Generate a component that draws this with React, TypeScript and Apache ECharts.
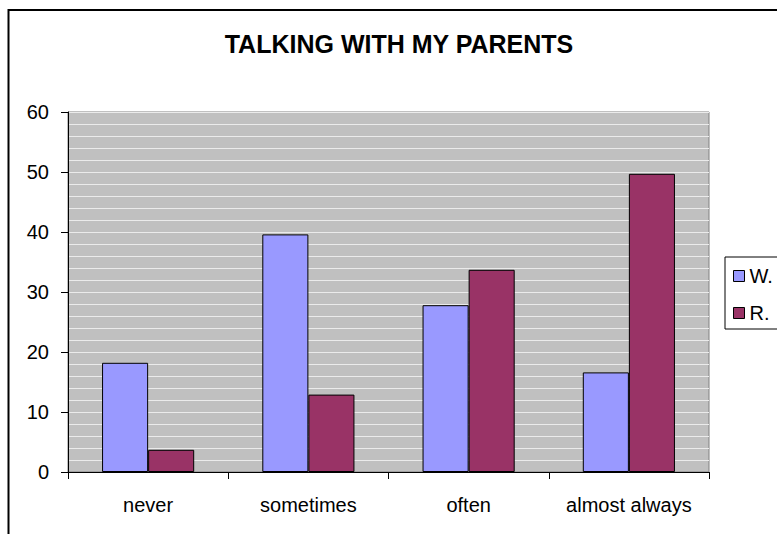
import React, { useEffect, useRef } from "react";
import * as echarts from "echarts";

const categories = ["never", "sometimes", "often", "almost always"];
const seriesNames = ["W.", "R."];
const valuesW = [18.2, 39.6, 27.8, 16.6];
const valuesR = [3.7, 12.9, 33.7, 49.7];
const yTicks = [0, 10, 20, 30, 40, 50, 60];

const FONT = "'Liberation Sans', Arial, sans-serif";

export default function App() {
  const ref = useRef<HTMLDivElement>(null);
  useEffect(() => {
    if (!ref.current) return;
    const chart = echarts.init(ref.current, null, { renderer: "svg" });
    chart.setOption({
      animation: false,
      backgroundColor: "#ffffff",
      textStyle: { fontFamily: FONT },
      graphic: [
        {
          type: "rect",
          shape: { x: 8.5, y: 10, width: 800, height: 600 },
          style: { fill: "none", stroke: "#000000", lineWidth: 2 },
          z: 100,
        },
        {
          type: "text",
          x: 399,
          y: 44,
          style: {
            text: "TALKING WITH MY PARENTS",
            font: `bold 25px ${FONT}`,
            fill: "#000000",
            textAlign: "center",
            textVerticalAlign: "middle",
          },
        },
      ],
      legend: {
        orient: "vertical",
        left: 725,
        top: 257,
        padding: [9, 30, 6, 8],
        itemWidth: 11,
        itemHeight: 11,
        itemGap: 17,
        icon: "rect",
        borderColor: "#000000",
        borderWidth: 1,
        backgroundColor: "#ffffff",
        textStyle: { fontSize: 20, lineHeight: 18, color: "#000000", fontFamily: FONT },
        itemStyle: { borderColor: "#000000", borderWidth: 1 },
        data: seriesNames,
      },
      grid: {
        left: 68,
        right: 68,
        top: 112,
        bottom: 62,
        show: true,
        backgroundColor: "#C0C0C0",
        borderColor: "#808080",
        borderWidth: 1,
      },
      xAxis: {
        type: "category",
        data: categories,
        axisLine: { show: true, lineStyle: { color: "#000000", width: 1 } },
        axisTick: { show: true, length: 7, interval: 0, lineStyle: { color: "#000000" } },
        axisLabel: { color: "#000000", fontSize: 20, margin: 23, interval: 0, fontFamily: FONT },
        splitLine: { show: false },
      },
      yAxis: {
        type: "value",
        min: yTicks[0],
        max: yTicks[yTicks.length - 1],
        interval: 10,
        axisLine: { show: true, lineStyle: { color: "#000000", width: 1 } },
        axisTick: { show: true, length: 7, lineStyle: { color: "#000000" } },
        axisLabel: { color: "#000000", fontSize: 20, margin: 19, fontFamily: FONT },
        splitLine: { show: true, lineStyle: { color: "#EBEBEB", width: 1 } },
        minorTick: { show: false, splitNumber: 5 },
        minorSplitLine: { show: true, lineStyle: { color: "#EBEBEB", width: 1 } },
      },
      series: [
        {
          name: seriesNames[0],
          type: "bar",
          data: valuesW,
          barGap: "0%",
          barCategoryGap: "42.5%",
          itemStyle: { color: "#9999FF", borderColor: "#000000", borderWidth: 1 },
        },
        {
          name: seriesNames[1],
          type: "bar",
          data: valuesR,
          barGap: "0%",
          barCategoryGap: "42.5%",
          itemStyle: { color: "#993366", borderColor: "#000000", borderWidth: 1 },
        },
      ],
    });
    return () => chart.dispose();
  }, []);
  return (
    <div
      ref={ref}
      style={{ position: "absolute", left: 0, top: 0, width: 777, height: 534 }}
    />
  );
}
